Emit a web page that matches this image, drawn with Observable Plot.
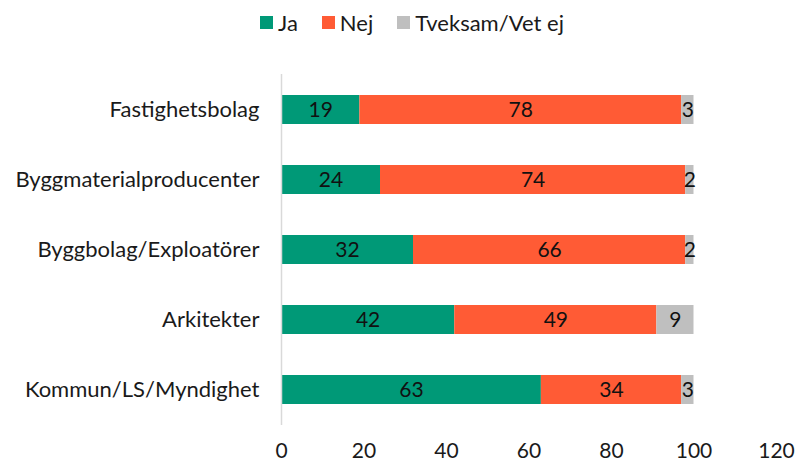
<!DOCTYPE html>
<html><head><meta charset="utf-8">
<script src="https://cdn.jsdelivr.net/npm/d3@7"></script>
<script src="https://cdn.jsdelivr.net/npm/@observablehq/plot@0.6"></script>
<style>
body{margin:0;background:#fff;font-family:Lato,"Open Sans",sans-serif;}
#legend{height:44px;display:flex;justify-content:center;align-items:center;gap:0;font-size:22px;color:#1a1a1a;padding-left:28px;box-sizing:border-box;}
#legend span.item{display:flex;align-items:center;margin:0 12px;}
#legend span.sw{display:inline-block;width:13px;height:13px;margin-right:5px;}
</style></head>
<body>
<div id="legend"></div>
<div id="chart"></div>
<script>
const categories = ["Fastighetsbolag","Byggmaterialproducenter","Byggbolag/Exploatörer","Arkitekter","Kommun/LS/Myndighet"];
const series = ["Ja","Nej","Tveksam/Vet ej"];
const ja = [19,24,32,42,63];
const nej = [78,74,66,49,34];
const tveksam = [3,2,2,9,3];
const colors = ["#009977","#FF5B35","#BFBFBF"];
const xTicks = [0,20,40,60,80,100,120];

const values = [ja, nej, tveksam];
const data = [];
categories.forEach((c, i) => series.forEach((s, j) => data.push({category: c, series: s, value: values[j][i]})));

const legend = document.getElementById("legend");
series.forEach((s, j) => {
  const it = document.createElement("span"); it.className = "item";
  const sw = document.createElement("span"); sw.className = "sw"; sw.style.background = colors[j];
  it.appendChild(sw); it.appendChild(document.createTextNode(s));
  legend.appendChild(it);
});

const chart = Plot.plot({
  width: 796,
  height: 419,
  marginTop: 30,
  marginBottom: 38,
  marginLeft: 281,
  marginRight: 20,
  style: {fontFamily: "Lato, 'Open Sans', sans-serif", fontSize: "21px", color: "#1a1a1a", background: "#fff"},
  x: {domain: [0, 120], ticks: xTicks, label: null},
  y: {domain: categories, label: null, paddingInner: 0.58, paddingOuter: 0.29},
  color: {domain: series, range: colors},
  marks: [
    Plot.barX(data, Plot.stackX({x: "value", y: "category", fill: "series", order: series})),
    Plot.text(data, Plot.stackX({x: "value", y: "category", z: "series", order: series, text: d => String(d.value), fill: "#111", fontSize: 21})),
    Plot.ruleX([0], {stroke: "#d9d9d9", strokeWidth: 1.5}),
    Plot.axisY({tickSize: 0, tickPadding: 22, fontSize: 22, label: null}),
    Plot.axisX({ticks: xTicks, tickSize: 0, tickPadding: 18, fontSize: 21, label: null})
  ]
});
document.getElementById("chart").appendChild(chart);
</script>
</body></html>
